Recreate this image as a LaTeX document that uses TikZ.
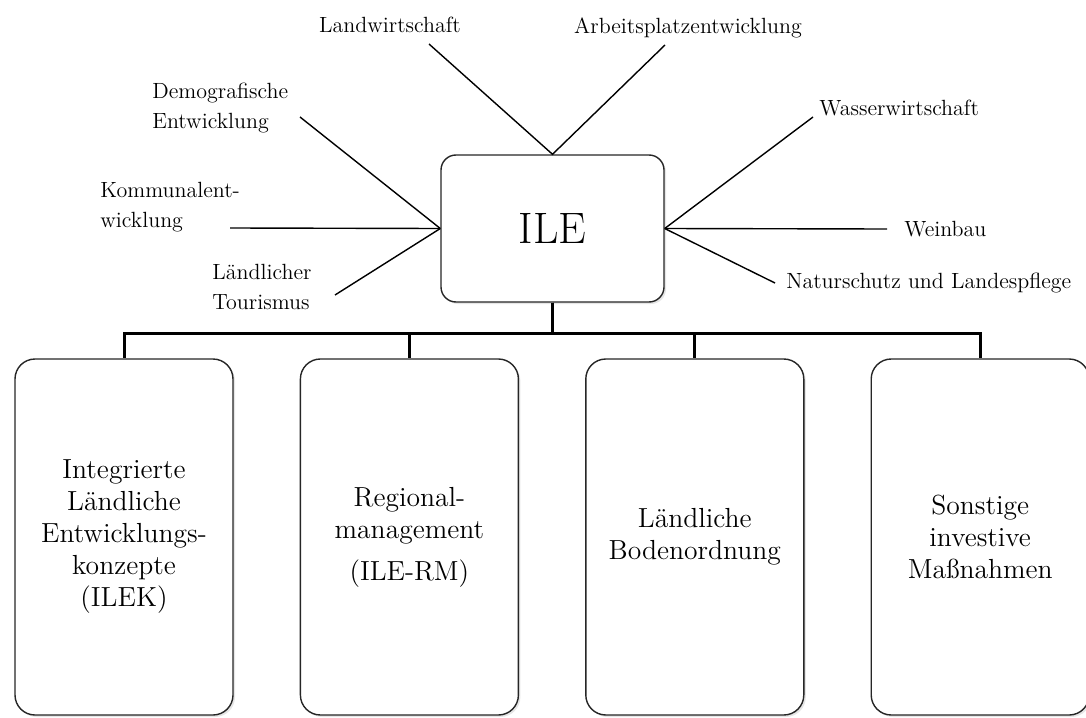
\documentclass[tikz,border=0pt]{standalone}
\usetikzlibrary{
    positioning,
    shadows
}
\def\hsep{33pt}
\tikzset{
    core/.style={
        draw=black!85,
        line width=0.7pt,
        fill=white,
        rounded corners=7.5pt,
        minimum width=111.5pt,
        minimum height=73.5pt,
        font=\fontsize{22}{26}\selectfont,
        drop shadow={opacity=0.2, shadow xshift=1pt, shadow yshift=-1pt},
    },
    measure/.style={
        draw=black!85,
        line width=0.7pt,
        fill=white,
        rounded corners=10pt,
        minimum width=109pt,
        minimum height=178pt,
        align=center,
        font=\fontsize{13.8}{16}\selectfont,
        drop shadow={opacity=0.2, shadow xshift=1pt, shadow yshift=-1pt},
    },
    topic/.style={
        inner sep=0pt,
        align=left,
        font=\fontsize{11}{15}\selectfont,
    },
    spoke/.style={line width=0.7pt},
    tree/.style={line width=1.5pt, line join=miter},
}

\begin{document}
\begin{tikzpicture}[x={(0.5pt,0)}, y={(0,-0.5pt)}]
    \useasboundingbox (0,0) rectangle (1086,717);

    % centre
    \node (ile) [core] at (552.5,228.5) {ILE};

    % fields around
    \node (land)   [topic] at (390,25)  {Landwirtschaft};
    \node (arbeit) [topic] at (688,28)  {Arbeitsplatzentwicklung};
    \node (demo)   [topic, anchor=west] at (152,108) {Demografische\\Entwicklung};
    \node (komm)   [topic, anchor=west] at (100,207) {Kommunalent-\\wicklung};
    \node (tour)   [topic, anchor=west] at (212,287) {Ländlicher\\Tourismus};
    \node (wasser) [topic, anchor=west] at (819,108) {Wasserwirtschaft};
    \node (wein)   [topic, anchor=west] at (904,229) {Weinbau};
    \node (natur)  [topic, anchor=west] at (786,283) {Naturschutz und Landespflege};

    \coordinate (land-e)   at (429,44);
    \coordinate (arbeit-e) at (665,45);
    \coordinate (demo-e)   at (300,117);
    \coordinate (komm-e)   at (230,228);
    \coordinate (tour-e)   at (335,295);
    \coordinate (wasser-e) at (813,117);
    \coordinate (wein-e)   at (887,229);
    \coordinate (natur-e)  at (775,283);

    \draw [spoke] (land-e) -- (ile.north) -- (arbeit-e);
    \foreach \f in {demo,komm,tour}{
        \draw [spoke] (\f-e) -- (ile.west);
    }
    \foreach \f in {wasser,wein,natur}{
        \draw [spoke] (ile.east) -- (\f-e);
    }

    % measures
    \node (box1) [measure] at (124,537)
        {Integrierte\\Ländliche\\Entwicklungs-\\konzepte\\(ILEK)};
    \node (box2) [right=\hsep of box1, measure]
        {Regional-\\management\\[5pt](ILE-RM)};
    \node (box3) [right=\hsep of box2, measure]
        {Ländliche\\Bodenordnung};
    \node (box4) [right=\hsep of box3, measure]
        {Sonstige\\investive\\Maßnahmen};

    \foreach \i in {1,2,3,4}{
        \draw [tree] (ile.south) -- ++(0,31) -| (box\i.north);
    }
\end{tikzpicture}
\end{document}
